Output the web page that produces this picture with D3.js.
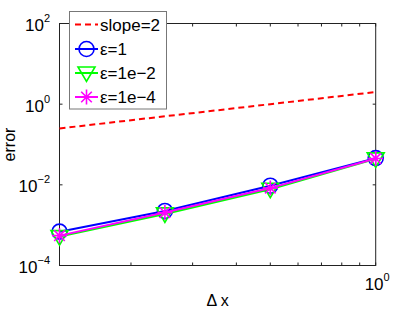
<!DOCTYPE html>
<html><head><meta charset="utf-8">
<script src="https://cdn.jsdelivr.net/npm/d3@7"></script>
<style>body{margin:0;background:#fff}svg{display:block;font-family:"Liberation Sans",Arial,sans-serif}</style>
</head><body><svg id="c" width="415" height="312"></svg>
<script>
const dx = [0.125, 0.25, 0.5, 1];
const slope2 = [0.25, 0.5, 1, 2];
const eps1 = [6.9e-4, 2.25e-3, 9.5e-3, 4.6e-2];
const eps2 = [5.2e-4, 1.9e-3, 7.8e-3, 4.4e-2];
const eps4 = [5.5e-4, 2.05e-3, 8.3e-3, 4.5e-2];
const yTickExp = [2, 0, -2, -4];
const xMinorTicks = [0.2, 0.3, 0.4, 0.5, 0.6, 0.7, 0.8, 0.9];
const legendLabels = ["slope=2", "ε=1", "ε=1e−2", "ε=1e−4"];

const svg = d3.select("#c");
const L = 59.5, R = 375.7, T = 23.5, B = 265.5;
const x = d3.scaleLog().domain([0.125, 1]).range([L, R]);
const y = d3.scaleLog().domain([1e-4, 1e2]).range([B, T]);

// axes box
const ax = svg.append("g");
ax.append("rect").attr("x", L).attr("y", T).attr("width", R - L).attr("height", B - T)
  .attr("fill", "none").attr("stroke", "#222").attr("stroke-width", 1);
// x ticks (inward, top & bottom)
xMinorTicks.concat([1]).forEach(v => {
  const px = x(v);
  ax.append("line").attr("x1", px).attr("x2", px).attr("y1", B).attr("y2", B - 3).attr("stroke", "#222");
  ax.append("line").attr("x1", px).attr("x2", px).attr("y1", T).attr("y2", T + 3).attr("stroke", "#222");
});
// y ticks
yTickExp.forEach(e => {
  const py = y(Math.pow(10, e));
  ax.append("line").attr("x1", L).attr("x2", L + 3).attr("y1", py).attr("y2", py).attr("stroke", "#222");
  ax.append("line").attr("x1", R).attr("x2", R - 3).attr("y1", py).attr("y2", py).attr("stroke", "#222");
  const t = ax.append("text").attr("x", 50).attr("y", py + 7.5).attr("text-anchor", "end")
    .attr("font-size", 17).attr("fill", "#000");
  t.append("tspan").text("10");
  t.append("tspan").attr("dy", -9).attr("font-size", 11).text(e < 0 ? "−" + (-e) : String(e));
});
// x tick label 10^0
{
  const t = ax.append("text").attr("x", x(1) + 14).attr("y", 289.5).attr("text-anchor", "end")
    .attr("font-size", 17).attr("fill", "#000");
  t.append("tspan").text("10");
  t.append("tspan").attr("dy", -9).attr("font-size", 11).text("0");
}
// axis labels
svg.append("text").attr("x", (L + R) / 2).attr("y", 306).attr("text-anchor", "middle")
  .attr("font-size", 16).text("Δ x");
svg.append("text").attr("transform", `translate(15,${(T + B) / 2}) rotate(-90)`).attr("text-anchor", "middle")
  .attr("font-size", 16).text("error");

// markers
function circleM(g, cx, cy) {
  g.append("circle").attr("cx", cx).attr("cy", cy).attr("r", 7.5).attr("fill", "none")
    .attr("stroke", "#0000ff").attr("stroke-width", 1.6);
}
function triM(g, cx, cy) {
  g.append("path").attr("d", `M${cx - 8.5},${cy - 6}L${cx + 8.5},${cy - 6}L${cx},${cy + 8.5}Z`)
    .attr("fill", "none").attr("stroke", "#00ff00").attr("stroke-width", 1.6);
}
function starM(g, cx, cy) {
  const r = 7.5, d = r * Math.SQRT1_2;
  const p = `M${cx - r},${cy}L${cx + r},${cy}M${cx},${cy - r}L${cx},${cy + r}M${cx - d},${cy - d}L${cx + d},${cy + d}M${cx - d},${cy + d}L${cx + d},${cy - d}`;
  g.append("path").attr("d", p).attr("stroke", "#ff00ff").attr("stroke-width", 1.6).attr("fill", "none");
}

const line = d3.line().x(d => x(d[0])).y(d => y(d[1]));
const series = [
  { vals: eps1, color: "#0000ff", marker: circleM },
  { vals: eps2, color: "#00ff00", marker: triM },
  { vals: eps4, color: "#ff00ff", marker: starM }
];
const pg = svg.append("g");
series.forEach(s => {
  const pts = dx.map((d, i) => [d, s.vals[i]]);
  pg.append("path").attr("d", line(pts)).attr("fill", "none").attr("stroke", s.color).attr("stroke-width", 2);
  pts.forEach(p => s.marker(pg, x(p[0]), y(p[1])));
});
pg.append("path").attr("d", line(dx.map((d, i) => [d, slope2[i]]))).attr("fill", "none")
  .attr("stroke", "#ff0000").attr("stroke-width", 2).attr("stroke-dasharray", "6,4");

// legend
const lg = svg.append("g");
lg.append("rect").attr("x", 69.5).attr("y", 11.5).attr("width", 97).attr("height", 97.5)
  .attr("fill", "#fff").attr("stroke", "#777").attr("stroke-width", 1);
const rowY = [24.5, 49, 73, 97];
const lx1 = 75, lx2 = 98, mx = 86.5;
lg.append("line").attr("x1", lx1).attr("x2", lx2).attr("y1", rowY[0]).attr("y2", rowY[0])
  .attr("stroke", "#ff0000").attr("stroke-width", 2).attr("stroke-dasharray", "6,4");
series.forEach((s, i) => {
  const yy = rowY[i + 1];
  lg.append("line").attr("x1", lx1).attr("x2", lx2).attr("y1", yy).attr("y2", yy)
    .attr("stroke", s.color).attr("stroke-width", 2);
  s.marker(lg, mx, yy);
});
legendLabels.forEach((t, i) => {
  lg.append("text").attr("x", 100).attr("y", rowY[i] + 6).attr("font-size", 17).text(t);
});
</script></body></html>
